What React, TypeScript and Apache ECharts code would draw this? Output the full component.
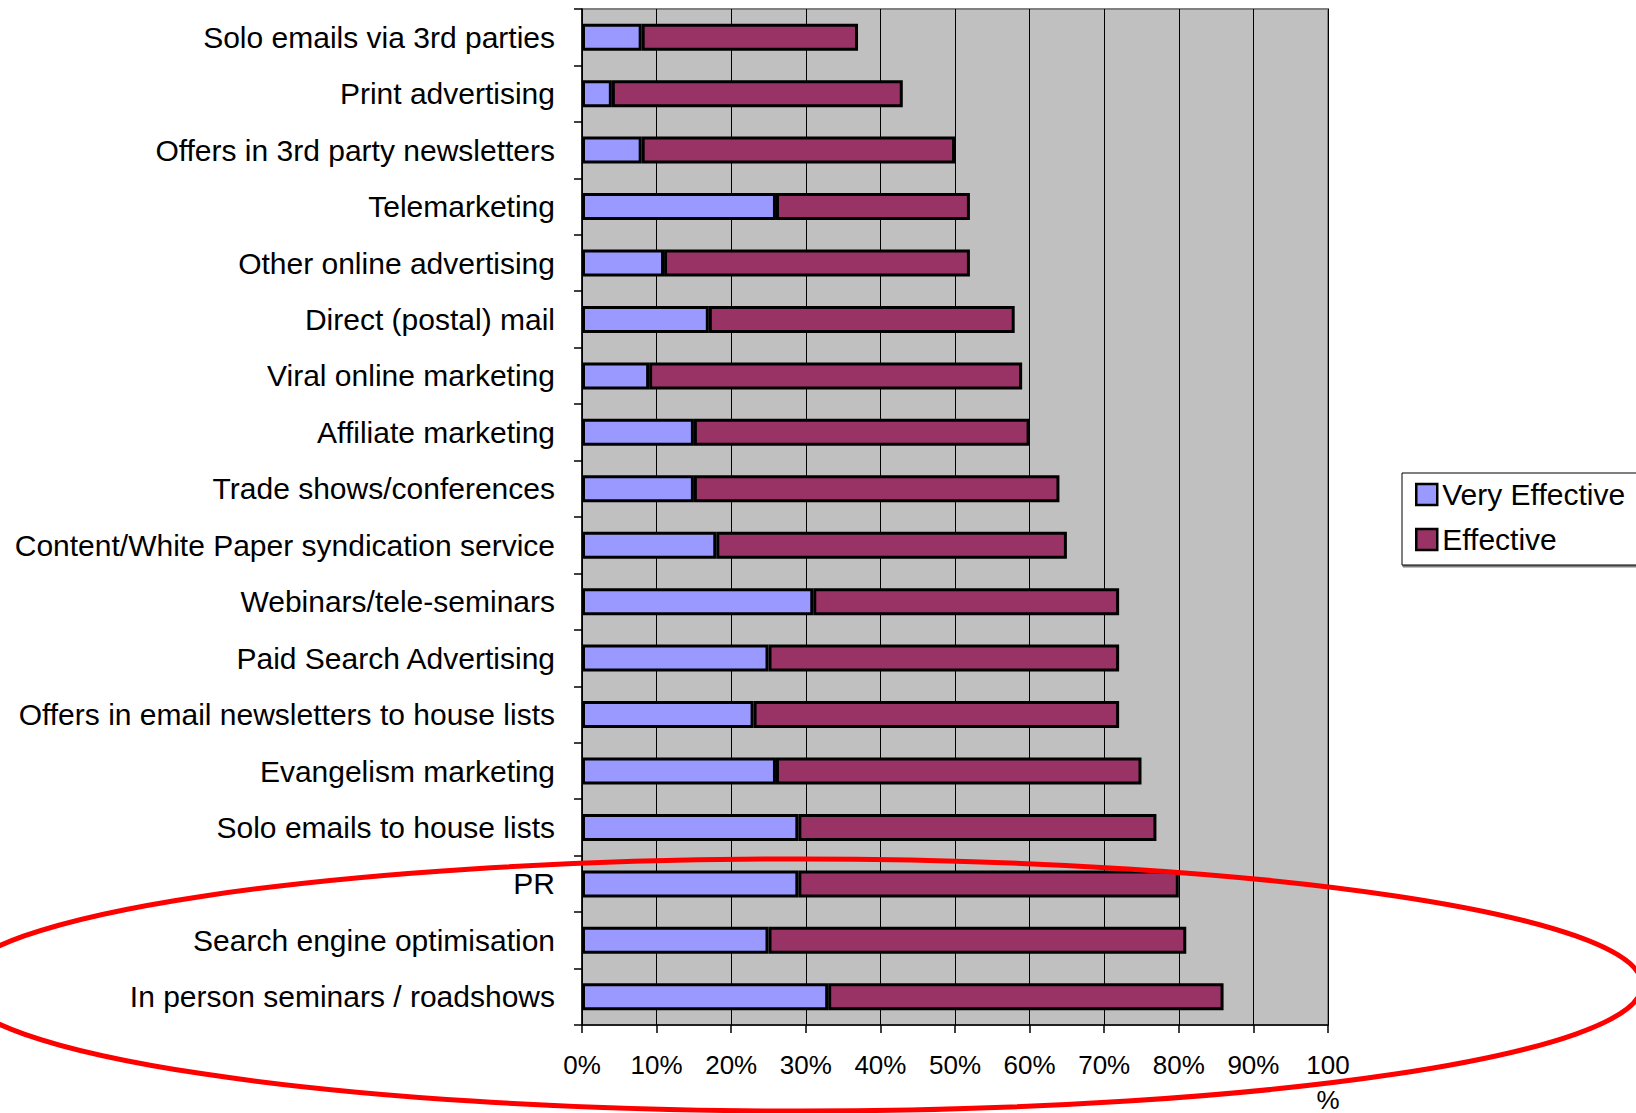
import React, { useEffect, useRef } from "react";
import * as echarts from "echarts";

const categories = [
  "Solo emails via 3rd parties",
  "Print advertising",
  "Offers in 3rd party newsletters",
  "Telemarketing",
  "Other online advertising",
  "Direct (postal) mail",
  "Viral online marketing",
  "Affiliate marketing",
  "Trade shows/conferences",
  "Content/White Paper syndication service",
  "Webinars/tele-seminars",
  "Paid Search Advertising",
  "Offers in email newsletters to house lists",
  "Evangelism marketing",
  "Solo emails to house lists",
  "PR",
  "Search engine optimisation",
  "In person seminars / roadshows",
];

const veryEffective = [8, 4, 8, 26, 11, 17, 9, 15, 15, 18, 31, 25, 23, 26, 29, 29, 25, 33];
const effective = [29, 39, 42, 26, 41, 41, 50, 45, 49, 47, 41, 47, 49, 49, 48, 51, 56, 53];

const FONT = '"Liberation Sans", Arial, sans-serif';

export default function App() {
  const ref = useRef<HTMLDivElement>(null);

  useEffect(() => {
    if (!ref.current) return;
    const chart = echarts.init(ref.current, null, { renderer: "svg" });
    const option: any = {
      animation: false,
      backgroundColor: "#ffffff",
      textStyle: { fontFamily: FONT, color: "#000" },
      grid: {
        left: 582,
        right: 308,
        top: 9,
        bottom: 88,
        outerBoundsMode: "none",
        containLabel: false,
        show: true,
        backgroundColor: "#C0C0C0",
        borderColor: "#808080",
        borderWidth: 2,
      },
      legend: {
        orient: "vertical",
        left: 1402,
        top: 473,
        padding: [6, 16, 10, 13],
        itemGap: 14,
        itemWidth: 21,
        itemHeight: 21,
        icon: "rect",
        backgroundColor: "#ffffff",
        borderColor: "#000000",
        borderWidth: 1,
        shadowColor: "rgba(0,0,0,0.5)",
        shadowOffsetX: 1,
        shadowOffsetY: 2,
        shadowBlur: 0,
        textStyle: { fontFamily: FONT, fontSize: 30, lineHeight: 31, color: "#000" },
        data: [
          { name: "Very Effective", itemStyle: { borderColor: "#000", borderWidth: 2.5 } },
          { name: "Effective", itemStyle: { borderColor: "#000", borderWidth: 2.5 } },
        ],
      },
      xAxis: {
        type: "value",
        min: 0,
        max: 100,
        interval: 10,
        axisLine: { show: true, lineStyle: { color: "#000", width: 1.5 } },
        axisTick: { show: true, length: 8, lineStyle: { color: "#000", width: 1.5 } },
        splitLine: { show: true, lineStyle: { color: "#000", width: 1 } },
        axisLabel: {
          fontFamily: FONT,
          fontSize: 26,
          lineHeight: 35,
          color: "#000",
          margin: 22,
          formatter: (v: number) => (v === 100 ? "100\n%" : v + "%"),
        },
      },
      yAxis: {
        type: "category",
        inverse: true,
        data: categories,
        axisLine: { show: true, lineStyle: { color: "#000", width: 1.5 } },
        axisTick: { show: true, length: 8, lineStyle: { color: "#000", width: 1.5 } },
        axisLabel: {
          fontFamily: FONT,
          fontSize: 30,
          color: "#000",
          margin: 27,
        },
      },
      series: [
        {
          name: "Very Effective",
          type: "bar",
          stack: "total",
          barWidth: 27,
          data: veryEffective,
          itemStyle: { color: "#9999FF", borderColor: "#000", borderWidth: 3 },
        },
        {
          name: "Effective",
          type: "bar",
          stack: "total",
          barWidth: 27,
          data: effective,
          itemStyle: { color: "#993366", borderColor: "#000", borderWidth: 3 },
        },
      ],
      graphic: [
        {
          type: "ellipse",
          z: 100,
          silent: true,
          shape: { cx: 800, cy: 985, rx: 842, ry: 126 },
          style: { fill: "none", stroke: "#FF0000", lineWidth: 5 },
        },
      ],
    };
    chart.setOption(option);
    return () => chart.dispose();
  }, []);

  return (
    <div
      ref={ref}
      style={{ position: "absolute", left: 0, top: 0, width: 1636, height: 1113 }}
    />
  );
}
